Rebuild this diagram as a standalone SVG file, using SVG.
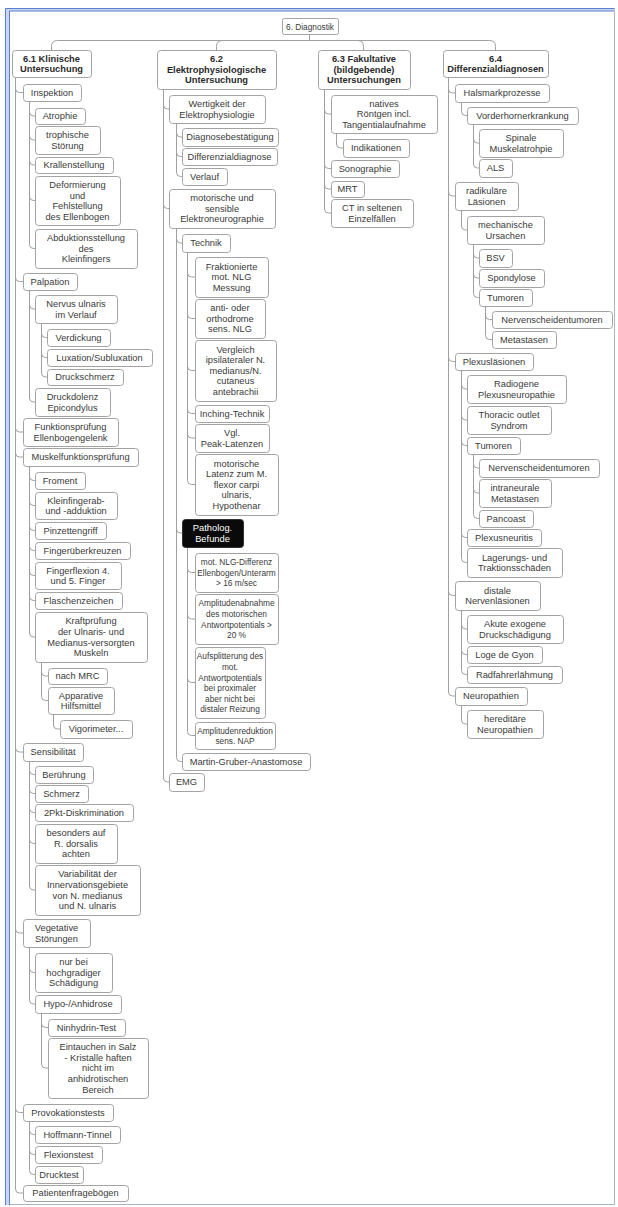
<svg xmlns="http://www.w3.org/2000/svg" width="618" height="1207" viewBox="0 0 618 1207">
<style>
.n rect{fill:#fff;stroke:#a3a3a3;stroke-width:1}
.n text{font-family:"Liberation Sans",Arial,sans-serif;font-size:9.3px;fill:#3a3a3a;text-anchor:middle}
.n.h text{font-weight:bold;fill:#2a2a2a}
.n.s text{font-size:8.3px}
.n.k rect{fill:#0a0a0a;stroke:#333}
.n.k text{fill:#fff}
.c path{fill:none;stroke:#a0a0a0;stroke-width:1}
</style>
<rect x="0" y="0" width="618" height="1207" fill="#fff"/>
<g id="frame">
<rect x="5.5" y="8.5" width="609" height="1196" fill="#fff" stroke="#aab4c8"/>
<rect x="5" y="8" width="5" height="1197" fill="#c9d6f2"/>
<rect x="5" y="8" width="610" height="3" fill="#c9d6f2"/>
<path d="M5.5,1205 V8.5 H614.5 M9.5,1205 V11 H614" fill="none" stroke="#5d7fd0"/>
</g>
<g id="connectors" class="c">
<path d="M309.5,34 V40.5 H57.5 Q51.5,40.5 51.5,46.5 V50 M309.5,40.5 H222.5 Q216.5,40.5 216.5,46.5 V50 M309.5,40.5 H357.5 Q363.5,40.5 363.5,46.5 V50 M309.5,40.5 H489.5 Q495.5,40.5 495.5,46.5 V50"/>
<path d="M15.5,77 V1189 Q15.5,1193 19.5,1193 H23 M15.5,88.5 Q15.5,92.5 19.5,92.5 H23 M15.5,277.5 Q15.5,281.5 19.5,281.5 H23 M15.5,428 Q15.5,432 19.5,432 H23 M15.5,453 Q15.5,457 19.5,457 H23 M15.5,748 Q15.5,752 19.5,752 H23 M15.5,929 Q15.5,933 19.5,933 H23 M15.5,1108.5 Q15.5,1112.5 19.5,1112.5 H23"/>
<path d="M29.5,101 V244.5 Q29.5,248.5 33.5,248.5 H35 M29.5,112 Q29.5,116 33.5,116 H35 M29.5,136 Q29.5,140 33.5,140 H35 M29.5,161 Q29.5,165 33.5,165 H35 M29.5,196.5 Q29.5,200.5 33.5,200.5 H35"/>
<path d="M29.5,290 V398 Q29.5,402 33.5,402 H35 M29.5,305 Q29.5,309 33.5,309 H35"/>
<path d="M41.5,323 V373 Q41.5,377 45.5,377 H47 M41.5,333.5 Q41.5,337.5 45.5,337.5 H47 M41.5,353.5 Q41.5,357.5 45.5,357.5 H47"/>
<path d="M29.5,466 V633 Q29.5,637 33.5,637 H35 M29.5,476.5 Q29.5,480.5 33.5,480.5 H35 M29.5,501.5 Q29.5,505.5 33.5,505.5 H35 M29.5,526.5 Q29.5,530.5 33.5,530.5 H35 M29.5,546.5 Q29.5,550.5 33.5,550.5 H35 M29.5,571.5 Q29.5,575.5 33.5,575.5 H35 M29.5,596.5 Q29.5,600.5 33.5,600.5 H35"/>
<path d="M41.5,662 V696.5 Q41.5,700.5 45.5,700.5 H48 M41.5,672 Q41.5,676 45.5,676 H48"/>
<path d="M53.5,714 V725 Q53.5,729 57.5,729 H60"/>
<path d="M29.5,761 V886 Q29.5,890 33.5,890 H35 M29.5,770.5 Q29.5,774.5 33.5,774.5 H35 M29.5,789.5 Q29.5,793.5 33.5,793.5 H35 M29.5,808.5 Q29.5,812.5 33.5,812.5 H35 M29.5,839.5 Q29.5,843.5 33.5,843.5 H35"/>
<path d="M29.5,947 V1000 Q29.5,1004 33.5,1004 H35 M29.5,968.5 Q29.5,972.5 33.5,972.5 H35"/>
<path d="M41.5,1013 V1064 Q41.5,1068 45.5,1068 H48 M41.5,1023.5 Q41.5,1027.5 45.5,1027.5 H48"/>
<path d="M29.5,1121 V1170.5 Q29.5,1174.5 33.5,1174.5 H35 M29.5,1130.5 Q29.5,1134.5 33.5,1134.5 H35 M29.5,1150.5 Q29.5,1154.5 33.5,1154.5 H35"/>
<path d="M163.5,89 V778 Q163.5,782 167.5,782 H169 M163.5,105 Q163.5,109 167.5,109 H169 M163.5,204.5 Q163.5,208.5 167.5,208.5 H169"/>
<path d="M176.5,123 V172.5 Q176.5,176.5 180.5,176.5 H182 M176.5,133 Q176.5,137 180.5,137 H182 M176.5,152.5 Q176.5,156.5 180.5,156.5 H182"/>
<path d="M176.5,228 V757.5 Q176.5,761.5 180.5,761.5 H182 M176.5,239 Q176.5,243 180.5,243 H182 M176.5,529 Q176.5,533 180.5,533 H182"/>
<path d="M187.5,252 V480.5 Q187.5,484.5 191.5,484.5 H195 M187.5,273 Q187.5,277 191.5,277 H195 M187.5,314.5 Q187.5,318.5 191.5,318.5 H195 M187.5,366.5 Q187.5,370.5 191.5,370.5 H195 M187.5,409.5 Q187.5,413.5 191.5,413.5 H195 M187.5,434 Q187.5,438 191.5,438 H195"/>
<path d="M187.5,547 V731.5 Q187.5,735.5 191.5,735.5 H195 M187.5,568.5 Q187.5,572.5 191.5,572.5 H195 M187.5,615 Q187.5,619 191.5,619 H195 M187.5,678.5 Q187.5,682.5 191.5,682.5 H195"/>
<path d="M324.5,89 V209 Q324.5,213 328.5,213 H331 M324.5,110 Q324.5,114 328.5,114 H331 M324.5,164.5 Q324.5,168.5 328.5,168.5 H331 M324.5,185 Q324.5,189 328.5,189 H331"/>
<path d="M336.5,133 V144 Q336.5,148 340.5,148 H343"/>
<path d="M448.5,77 V692 Q448.5,696 452.5,696 H455 M448.5,89 Q448.5,93 452.5,93 H455 M448.5,192 Q448.5,196 452.5,196 H455 M448.5,357.5 Q448.5,361.5 452.5,361.5 H455 M448.5,591.5 Q448.5,595.5 452.5,595.5 H455"/>
<path d="M461.5,102 V111.5 Q461.5,115.5 465.5,115.5 H467"/>
<path d="M473.5,124 V164 Q473.5,168 477.5,168 H479 M473.5,139 Q473.5,143 477.5,143 H479"/>
<path d="M461.5,210 V226 Q461.5,230 465.5,230 H467"/>
<path d="M473.5,244 V293.5 Q473.5,297.5 477.5,297.5 H479 M473.5,254 Q473.5,258 477.5,258 H479 M473.5,274 Q473.5,278 477.5,278 H479"/>
<path d="M485.5,306 V335.5 Q485.5,339.5 489.5,339.5 H492 M485.5,315.5 Q485.5,319.5 489.5,319.5 H492"/>
<path d="M461.5,370 V558.5 Q461.5,562.5 465.5,562.5 H467 M461.5,385 Q461.5,389 465.5,389 H467 M461.5,416 Q461.5,420 465.5,420 H467 M461.5,441.5 Q461.5,445.5 465.5,445.5 H467 M461.5,533.5 Q461.5,537.5 465.5,537.5 H467"/>
<path d="M473.5,454 V514.5 Q473.5,518.5 477.5,518.5 H479 M473.5,464 Q473.5,468 477.5,468 H479 M473.5,489 Q473.5,493 477.5,493 H479"/>
<path d="M461.5,610 V670.5 Q461.5,674.5 465.5,674.5 H467 M461.5,625 Q461.5,629 465.5,629 H467 M461.5,650.5 Q461.5,654.5 465.5,654.5 H467"/>
<path d="M461.5,705 V720 Q461.5,724 465.5,724 H467"/>
</g>
<g id="root" class="n s"><rect x="282.5" y="18.5" width="56" height="16" rx="2"/><text x="310" y="29.5">6. Diagnostik</text></g>
<g id="n61" class="n h"><rect x="12.5" y="50.5" width="79" height="27" rx="3"/><text x="51.5"><tspan x="51.5" y="61.5">6.1 Klinische</tspan><tspan x="51.5" y="72.1">Untersuchung</tspan></text></g>
<g id="n62" class="n h"><rect x="157.5" y="50.5" width="119" height="39" rx="3"/><text><tspan x="216.5" y="62.2">6.2</tspan><tspan x="216.5" y="72.8">Elektrophysiologische</tspan><tspan x="216.5" y="83.4">Untersuchung</tspan></text></g>
<g id="n63" class="n h"><rect x="318.5" y="50.5" width="92" height="39" rx="3"/><text><tspan x="364" y="62.2">6.3 Fakultative</tspan><tspan x="364" y="72.8">(bildgebende)</tspan><tspan x="364" y="83.4">Untersuchungen</tspan></text></g>
<g id="n64" class="n h"><rect x="443.5" y="50.5" width="105" height="27" rx="3"/><text><tspan x="495.5" y="61.5">6.4</tspan><tspan x="495.5" y="72.1">Differenzialdiagnosen</tspan></text></g>

<g id="inspektion" class="n"><rect x="23.5" y="84.5" width="58" height="17" rx="3"/><text x="52" y="95.8">Inspektion</text></g>
<g id="atrophie" class="n"><rect x="35.5" y="108.5" width="50" height="16" rx="3"/><text x="60" y="119.3">Atrophie</text></g>
<g id="trophische" class="n"><rect x="35.5" y="126.5" width="65" height="28" rx="3"/><text><tspan x="67.5" y="138">trophische</tspan><tspan x="67.5" y="148.6">Störung</tspan></text></g>
<g id="krallen" class="n"><rect x="35.5" y="157.5" width="78" height="16" rx="3"/><text x="74" y="168.3">Krallenstellung</text></g>
<g id="deformierung" class="n"><rect x="35.5" y="176.5" width="85" height="49" rx="3"/><text><tspan x="77.5" y="187.9">Deformierung</tspan><tspan x="77.5" y="198.5">und</tspan><tspan x="77.5" y="209.1">Fehlstellung</tspan><tspan x="77.5" y="219.7">des Ellenbogen</tspan></text></g>
<g id="abduktion" class="n"><rect x="35.5" y="229.5" width="102" height="39" rx="3"/><text><tspan x="86" y="241.2">Abduktionsstellung</tspan><tspan x="86" y="251.8">des</tspan><tspan x="86" y="262.4">Kleinfingers</tspan></text></g>
<g id="palpation" class="n"><rect x="23.5" y="273.5" width="54" height="17" rx="3"/><text x="50" y="284.8">Palpation</text></g>
<g id="nervus" class="n"><rect x="35.5" y="295.5" width="82" height="28" rx="3"/><text><tspan x="76" y="307">Nervus ulnaris</tspan><tspan x="76" y="317.6">im Verlauf</tspan></text></g>
<g id="verdickung" class="n"><rect x="47.5" y="329.5" width="63" height="17" rx="3"/><text x="78.5" y="340.8">Verdickung</text></g>
<g id="luxation" class="n"><rect x="47.5" y="349.5" width="105" height="17" rx="3"/><text x="99.5" y="360.8">Luxation/Subluxation</text></g>
<g id="druckschmerz" class="n"><rect x="47.5" y="369.5" width="76" height="16" rx="3"/><text x="85" y="380.3">Druckschmerz</text></g>
<g id="druckdolenz" class="n"><rect x="35.5" y="388.5" width="75" height="28" rx="3"/><text><tspan x="72.5" y="400">Druckdolenz</tspan><tspan x="72.5" y="410.6">Epicondylus</tspan></text></g>
<g id="funktion" class="n"><rect x="23.5" y="418.5" width="95" height="28" rx="3"/><text><tspan x="70.5" y="430">Funktionsprüfung</tspan><tspan x="70.5" y="440.6">Ellenbogengelenk</tspan></text></g>
<g id="muskel" class="n"><rect x="23.5" y="448.5" width="115" height="18" rx="3"/><text x="80.5" y="460.3">Muskelfunktionsprüfung</text></g>
<g id="froment" class="n"><rect x="35.5" y="472.5" width="50" height="17" rx="3"/><text x="60" y="483.8">Froment</text></g>
<g id="kleinfinger" class="n"><rect x="35.5" y="492.5" width="82" height="27" rx="3"/><text><tspan x="76" y="503.5">Kleinfingerab-</tspan><tspan x="76" y="514.1">und -adduktion</tspan></text></g>
<g id="pinzetten" class="n"><rect x="35.5" y="522.5" width="71" height="17" rx="3"/><text x="70.5" y="533.8">Pinzettengriff</text></g>
<g id="fingerueber" class="n"><rect x="35.5" y="542.5" width="95" height="17" rx="3"/><text x="82.5" y="553.8">Fingerüberkreuzen</text></g>
<g id="fingerflexion" class="n"><rect x="35.5" y="562.5" width="86" height="27" rx="3"/><text><tspan x="78" y="573.5">Fingerflexion 4.</tspan><tspan x="78" y="584.1">und 5. Finger</tspan></text></g>
<g id="flaschen" class="n"><rect x="35.5" y="592.5" width="87" height="17" rx="3"/><text x="78.5" y="603.8">Flaschenzeichen</text></g>
<g id="kraft" class="n"><rect x="35.5" y="612.5" width="112" height="50" rx="3"/><text><tspan x="91" y="624.4">Kraftprüfung</tspan><tspan x="91" y="635">der Ulnaris- und</tspan><tspan x="91" y="645.6">Medianus-versorgten</tspan><tspan x="91" y="656.2">Muskeln</tspan></text></g>
<g id="mrc" class="n"><rect x="48.5" y="668.5" width="59" height="16" rx="3"/><text x="77.5" y="679.3">nach MRC</text></g>
<g id="apparative" class="n"><rect x="48.5" y="687.5" width="66" height="27" rx="3"/><text><tspan x="81" y="698.5">Apparative</tspan><tspan x="81" y="709.1">Hilfsmittel</tspan></text></g>
<g id="vigorimeter" class="n"><rect x="60.5" y="720.5" width="72" height="18" rx="3"/><text x="96" y="732.3">Vigorimeter...</text></g>
<g id="sensibilitaet" class="n"><rect x="23.5" y="743.5" width="60" height="18" rx="3"/><text x="53" y="755.3">Sensibilität</text></g>
<g id="beruehrung" class="n"><rect x="35.5" y="766.5" width="58" height="17" rx="3"/><text x="64" y="777.8">Berührung</text></g>
<g id="schmerz" class="n"><rect x="35.5" y="785.5" width="53" height="17" rx="3"/><text x="61.5" y="796.8">Schmerz</text></g>
<g id="pkt" class="n"><rect x="35.5" y="804.5" width="98" height="17" rx="3"/><text x="84" y="815.8">2Pkt-Diskrimination</text></g>
<g id="besonders" class="n"><rect x="35.5" y="824.5" width="82" height="39" rx="3"/><text><tspan x="76" y="836.2">besonders auf</tspan><tspan x="76" y="846.8">R. dorsalis</tspan><tspan x="76" y="857.4">achten</tspan></text></g>
<g id="variabilitaet" class="n"><rect x="35.5" y="865.5" width="105" height="50" rx="3"/><text><tspan x="87.5" y="877.4">Variabilität der</tspan><tspan x="87.5" y="888">Innervationsgebiete</tspan><tspan x="87.5" y="898.6">von N. medianus</tspan><tspan x="87.5" y="909.2">und N. ulnaris</tspan></text></g>
<g id="vegetative" class="n"><rect x="23.5" y="919.5" width="67" height="28" rx="3"/><text><tspan x="56.5" y="931">Vegetative</tspan><tspan x="56.5" y="941.6">Störungen</tspan></text></g>
<g id="nurbei" class="n"><rect x="35.5" y="953.5" width="77" height="39" rx="3"/><text><tspan x="73.5" y="965.2">nur bei</tspan><tspan x="73.5" y="975.8">hochgradiger</tspan><tspan x="73.5" y="986.4">Schädigung</tspan></text></g>
<g id="hypo" class="n"><rect x="35.5" y="995.5" width="86" height="18" rx="3"/><text x="78" y="1007.3">Hypo-/Anhidrose</text></g>
<g id="ninhydrin" class="n"><rect x="48.5" y="1019.5" width="77" height="17" rx="3"/><text x="86.5" y="1030.8">Ninhydrin-Test</text></g>
<g id="eintauchen" class="n"><rect x="48.5" y="1038.5" width="100" height="60" rx="3"/><text><tspan x="98" y="1050.1">Eintauchen in Salz</tspan><tspan x="98" y="1060.7">- Kristalle haften</tspan><tspan x="98" y="1071.3">nicht im</tspan><tspan x="98" y="1081.9">anhidrotischen</tspan><tspan x="98" y="1092.5">Bereich</tspan></text></g>
<g id="provokation" class="n"><rect x="23.5" y="1104.5" width="90" height="17" rx="3"/><text x="68" y="1115.8">Provokationstests</text></g>
<g id="hoffmann" class="n"><rect x="35.5" y="1126.5" width="85" height="17" rx="3"/><text x="77.5" y="1137.8">Hoffmann-Tinnel</text></g>
<g id="flexionstest" class="n"><rect x="35.5" y="1146.5" width="67" height="17" rx="3"/><text x="68.5" y="1157.8">Flexionstest</text></g>
<g id="drucktest" class="n"><rect x="35.5" y="1166.5" width="48" height="17" rx="3"/><text x="59" y="1177.8">Drucktest</text></g>
<g id="patienten" class="n"><rect x="23.5" y="1185.5" width="105" height="16" rx="3"/><text x="75.5" y="1196.3">Patientenfragebögen</text></g>

<g id="wertigkeit" class="n"><rect x="169.5" y="95.5" width="96" height="28" rx="3"/><text><tspan x="217" y="107">Wertigkeit der</tspan><tspan x="217" y="117.6">Elektrophysiologie</tspan></text></g>
<g id="diagnosebest" class="n"><rect x="182.5" y="128.5" width="96" height="18" rx="3"/><text x="230" y="140.3">Diagnosebestätigung</text></g>
<g id="diffdiag" class="n"><rect x="182.5" y="148.5" width="95" height="17" rx="3"/><text x="229.5" y="159.8">Differenzialdiagnose</text></g>
<g id="verlauf" class="n"><rect x="182.5" y="168.5" width="45" height="17" rx="3"/><text x="204.5" y="179.8">Verlauf</text></g>
<g id="motsens" class="n"><rect x="169.5" y="189.5" width="106" height="39" rx="3"/><text><tspan x="222" y="201.2">motorische und</tspan><tspan x="222" y="211.8">sensible</tspan><tspan x="222" y="222.4">Elektroneurographie</tspan></text></g>
<g id="technik" class="n"><rect x="182.5" y="234.5" width="48" height="18" rx="3"/><text x="206" y="246.3">Technik</text></g>
<g id="fraktionierte" class="n"><rect x="195.5" y="257.5" width="73" height="40" rx="3"/><text><tspan x="231.5" y="269.7">Fraktionierte</tspan><tspan x="231.5" y="280.3">mot. NLG</tspan><tspan x="231.5" y="290.9">Messung</tspan></text></g>
<g id="antiortho" class="n"><rect x="195.5" y="299.5" width="70" height="39" rx="3"/><text><tspan x="230" y="311.2">anti- oder</tspan><tspan x="230" y="321.8">orthodrome</tspan><tspan x="230" y="332.4">sens. NLG</tspan></text></g>
<g id="vergleich" class="n"><rect x="195.5" y="340.5" width="81" height="61" rx="3"/><text><tspan x="235.5" y="352.6">Vergleich</tspan><tspan x="235.5" y="363.2">ipsilateraler N.</tspan><tspan x="235.5" y="373.8">medianus/N.</tspan><tspan x="235.5" y="384.4">cutaneus</tspan><tspan x="235.5" y="395">antebrachii</tspan></text></g>
<g id="inching" class="n"><rect x="195.5" y="405.5" width="74" height="17" rx="3"/><text x="232" y="416.8">Inching-Technik</text></g>
<g id="vglpeak" class="n"><rect x="195.5" y="424.5" width="74" height="28" rx="3"/><text><tspan x="232" y="436">Vgl.</tspan><tspan x="232" y="446.6">Peak-Latenzen</tspan></text></g>
<g id="motlatenz" class="n"><rect x="195.5" y="454.5" width="83" height="61" rx="3"/><text><tspan x="236.5" y="466.6">motorische</tspan><tspan x="236.5" y="477.2">Latenz zum M.</tspan><tspan x="236.5" y="487.8">flexor carpi</tspan><tspan x="236.5" y="498.4">ulnaris,</tspan><tspan x="236.5" y="509">Hypothenar</tspan></text></g>
<g id="patholog" class="n k"><rect x="182.5" y="519.5" width="61" height="28" rx="3"/><text><tspan x="212.5" y="531">Patholog.</tspan><tspan x="212.5" y="541.6">Befunde</tspan></text></g>
<g id="nlgdiff" class="n s"><rect x="195.5" y="553.5" width="83" height="39" rx="3"/><text><tspan x="236.5" y="565.2">mot. NLG-Differenz</tspan><tspan x="236.5" y="575.8">Ellenbogen/Unterarm</tspan><tspan x="236.5" y="586.4">&gt; 16 m/sec</tspan></text></g>
<g id="amplabnahme" class="n s"><rect x="195.5" y="594.5" width="83" height="50" rx="3"/><text><tspan x="236.5" y="606.4">Amplitudenabnahme</tspan><tspan x="236.5" y="617">des motorischen</tspan><tspan x="236.5" y="627.6">Antwortpotentials &gt;</tspan><tspan x="236.5" y="638.2">20 %</tspan></text></g>
<g id="aufsplitterung" class="n s"><rect x="195.5" y="647.5" width="70" height="71" rx="3"/><text><tspan x="230" y="659.3">Aufsplitterung des</tspan><tspan x="230" y="669.9">mot.</tspan><tspan x="230" y="680.5">Antwortpotentials</tspan><tspan x="230" y="691.1">bei proximaler</tspan><tspan x="230" y="701.7">aber nicht bei</tspan><tspan x="230" y="712.3">distaler Reizung</tspan></text></g>
<g id="amplreduktion" class="n s"><rect x="195.5" y="722.5" width="80" height="27" rx="3"/><text><tspan x="235" y="733.5">Amplitudenreduktion</tspan><tspan x="235" y="744.1">sens. NAP</tspan></text></g>
<g id="martin" class="n"><rect x="182.5" y="753.5" width="128" height="17" rx="3"/><text x="246" y="764.8">Martin-Gruber-Anastomose</text></g>
<g id="emg" class="n"><rect x="169.5" y="773.5" width="35" height="18" rx="3"/><text x="186.5" y="785.3">EMG</text></g>

<g id="natives" class="n"><rect x="331.5" y="95.5" width="106" height="38" rx="3"/><text><tspan x="384" y="106.7">natives</tspan><tspan x="384" y="117.3">Röntgen incl.</tspan><tspan x="384" y="127.9">Tangentialaufnahme</tspan></text></g>
<g id="indikationen" class="n"><rect x="343.5" y="139.5" width="66" height="18" rx="3"/><text x="376" y="151.3">Indikationen</text></g>
<g id="sonographie" class="n"><rect x="331.5" y="160.5" width="68" height="17" rx="3"/><text x="365" y="171.8">Sonographie</text></g>
<g id="mrt" class="n"><rect x="331.5" y="181.5" width="33" height="16" rx="3"/><text x="347.5" y="192.3">MRT</text></g>
<g id="ct" class="n"><rect x="331.5" y="199.5" width="82" height="28" rx="3"/><text><tspan x="372" y="211">CT in seltenen</tspan><tspan x="372" y="221.6">Einzelfällen</tspan></text></g>

<g id="halsmark" class="n"><rect x="455.5" y="84.5" width="94" height="18" rx="3"/><text x="502" y="96.3">Halsmarkprozesse</text></g>
<g id="vorderhorn" class="n"><rect x="467.5" y="107.5" width="111" height="17" rx="3"/><text x="522.5" y="118.8">Vorderhornerkrankung</text></g>
<g id="spinale" class="n"><rect x="479.5" y="129.5" width="84" height="28" rx="3"/><text><tspan x="521" y="141">Spinale</tspan><tspan x="521" y="151.6">Muskelatrohpie</tspan></text></g>
<g id="als" class="n"><rect x="479.5" y="159.5" width="33" height="18" rx="3"/><text x="495.5" y="171.3">ALS</text></g>
<g id="radikulaer" class="n"><rect x="455.5" y="182.5" width="63" height="28" rx="3"/><text><tspan x="486.5" y="194">radikuläre</tspan><tspan x="486.5" y="204.6">Läsionen</tspan></text></g>
<g id="mechanische" class="n"><rect x="467.5" y="216.5" width="77" height="28" rx="3"/><text><tspan x="505.5" y="228">mechanische</tspan><tspan x="505.5" y="238.6">Ursachen</tspan></text></g>
<g id="bsv" class="n"><rect x="479.5" y="249.5" width="33" height="18" rx="3"/><text x="495.5" y="261.3">BSV</text></g>
<g id="spondylose" class="n"><rect x="479.5" y="269.5" width="65" height="18" rx="3"/><text x="511.5" y="281.3">Spondylose</text></g>
<g id="tumoren1" class="n"><rect x="479.5" y="289.5" width="53" height="17" rx="3"/><text x="505.5" y="300.8">Tumoren</text></g>
<g id="nervensch1" class="n"><rect x="492.5" y="311.5" width="120" height="17" rx="3"/><text x="552" y="322.8">Nervenscheidentumoren</text></g>
<g id="metastasen" class="n"><rect x="492.5" y="331.5" width="64" height="17" rx="3"/><text x="524" y="342.8">Metastasen</text></g>
<g id="plexus" class="n"><rect x="455.5" y="353.5" width="78" height="17" rx="3"/><text x="494" y="364.8">Plexusläsionen</text></g>
<g id="radiogene" class="n"><rect x="467.5" y="375.5" width="99" height="28" rx="3"/><text><tspan x="516.5" y="387">Radiogene</tspan><tspan x="516.5" y="397.6">Plexusneuropathie</tspan></text></g>
<g id="thoracic" class="n"><rect x="467.5" y="406.5" width="84" height="28" rx="3"/><text><tspan x="509" y="418">Thoracic outlet</tspan><tspan x="509" y="428.6">Syndrom</tspan></text></g>
<g id="tumoren2" class="n"><rect x="467.5" y="437.5" width="53" height="17" rx="3"/><text x="493.5" y="448.8">Tumoren</text></g>
<g id="nervensch2" class="n"><rect x="479.5" y="459.5" width="120" height="18" rx="3"/><text x="539" y="471.3">Nervenscheidentumoren</text></g>
<g id="intraneurale" class="n"><rect x="479.5" y="479.5" width="72" height="28" rx="3"/><text><tspan x="515" y="491">intraneurale</tspan><tspan x="515" y="501.6">Metastasen</tspan></text></g>
<g id="pancoast" class="n"><rect x="479.5" y="510.5" width="54" height="17" rx="3"/><text x="506" y="521.8">Pancoast</text></g>
<g id="plexusneuritis" class="n"><rect x="467.5" y="529.5" width="74" height="17" rx="3"/><text x="504" y="540.8">Plexusneuritis</text></g>
<g id="lagerungs" class="n"><rect x="467.5" y="548.5" width="95" height="29" rx="3"/><text><tspan x="514.5" y="560.5">Lagerungs- und</tspan><tspan x="514.5" y="571.1">Traktionsschäden</tspan></text></g>
<g id="distale" class="n"><rect x="455.5" y="581.5" width="85" height="29" rx="3"/><text><tspan x="497.5" y="593.5">distale</tspan><tspan x="497.5" y="604.1">Nervenläsionen</tspan></text></g>
<g id="akute" class="n"><rect x="467.5" y="615.5" width="96" height="28" rx="3"/><text><tspan x="515" y="627">Akute exogene</tspan><tspan x="515" y="637.6">Druckschädigung</tspan></text></g>
<g id="loge" class="n"><rect x="467.5" y="646.5" width="75" height="17" rx="3"/><text x="504.5" y="657.8">Loge de Gyon</text></g>
<g id="radfahrer" class="n"><rect x="467.5" y="666.5" width="95" height="17" rx="3"/><text x="514.5" y="677.8">Radfahrerlähmung</text></g>
<g id="neuropathien" class="n"><rect x="455.5" y="687.5" width="72" height="18" rx="3"/><text x="491" y="699.3">Neuropathien</text></g>
<g id="hereditaer" class="n"><rect x="467.5" y="710.5" width="76" height="28" rx="3"/><text><tspan x="505" y="722">hereditäre</tspan><tspan x="505" y="732.6">Neuropathien</tspan></text></g>
</svg>
